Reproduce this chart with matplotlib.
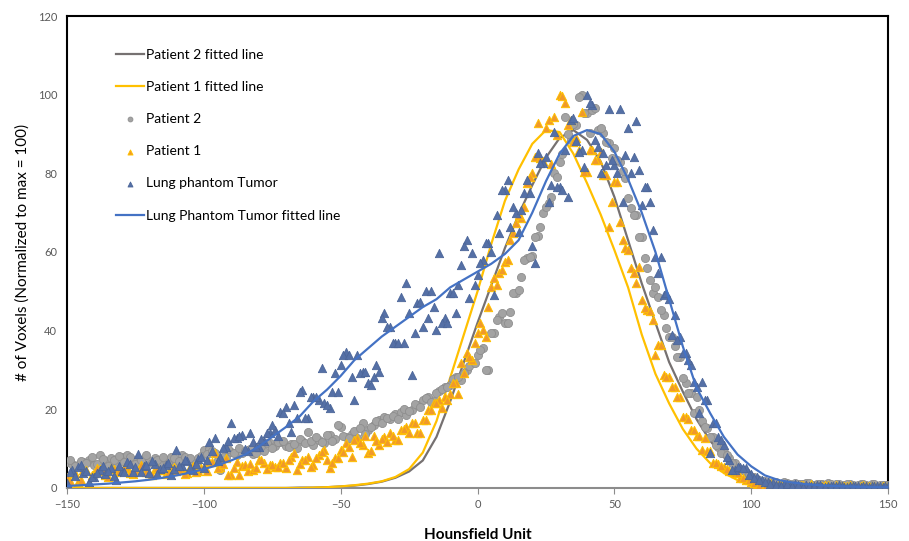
import numpy as np
import matplotlib.pyplot as plt

# Hounsfield unit grids: measured points on even and odd HU, fitted lines every 5 HU
hu_even = np.arange(-150, 151, 2)
hu_odd = np.arange(-149, 150, 2)
hu_fit = np.arange(-150, 151, 5)

# Patient 2 - grey circles
patient2_even = [6.7, 6.2, 5.8, 6.5, 7.0, 5.9, 8.3, 6.8, 7.6, 6.4,
                 8.0, 8.4, 7.1, 6.3, 7.4, 6.9, 7.6, 6.6, 7.2, 7.9,
                 6.5, 8.4, 7.3, 6.8, 7.7, 9.6, 10.0, 8.9, 4.6, 7.8,
                 9.2, 8.4, 9.0, 9.7, 8.6, 10.3, 9.5, 11.4, 10.6, 11.7,
                 10.8, 11.2, 10.2, 11.9, 14.3, 11.0, 12.2, 11.5, 13.5, 12.4,
                 15.5, 12.9, 13.6, 12.8, 16.4, 14.8, 16.0, 17.2, 18.1, 17.5,
                 18.8, 19.3, 18.6, 19.8, 21.0, 22.3, 23.2, 22.0, 24.6, 25.8,
                 26.2, 28.3, 27.4, 30.1, 31.7, 33.8, 35.5, 30.0, 39.3, 43.6,
                 42.0, 44.8, 49.5, 53.7, 58.4, 59.0, 64.0, 69.8, 72.4, 80.2,
                 83.0, 94.4, 88.5, 92.3, 100.0, 95.3, 96.1, 91.0, 90.2, 87.6,
                 86.4, 83.0, 78.7, 71.1, 69.4, 63.9, 55.9, 49.5, 48.6, 44.0,
                 38.5, 36.0, 33.4, 26.6, 24.1, 23.2, 17.0, 15.2, 13.0, 10.5,
                 9.2, 7.5, 6.3, 4.9, 4.0, 2.9, 2.2, 1.8, 1.5, 1.3,
                 1.1, 1.4, 0.9, 1.2, 1.0, 1.3, 0.8, 1.1, 0.9, 1.2,
                 0.7, 1.0, 0.8, 1.1, 0.6, 0.9, 0.7, 1.0, 0.6, 0.8,
                 0.7]
patient2_odd = [7.2, 5.6, 6.9, 6.3, 7.8, 6.1, 7.4, 5.7, 7.0, 8.1,
                6.6, 7.9, 6.0, 7.2, 8.3, 6.4, 7.0, 8.0, 6.2, 7.5,
                6.9, 8.0, 7.6, 6.3, 8.2, 8.6, 9.3, 7.2, 8.0, 9.8,
                8.8, 10.1, 9.4, 10.0, 9.0, 10.8, 11.4, 10.2, 11.6, 12.0,
                10.5, 11.3, 12.5, 11.4, 12.0, 13.0, 11.8, 13.4, 12.0, 15.9,
                13.3, 12.6, 14.4, 15.2, 13.8, 15.5, 17.0, 16.4, 17.9, 18.3,
                17.6, 20.1, 19.6, 21.4, 20.6, 23.0, 21.8, 24.2, 25.2, 25.8,
                27.6, 28.3, 29.2, 31.0, 31.7, 35.1, 30.0, 39.3, 42.7, 44.4,
                41.9, 49.5, 50.3, 58.0, 58.8, 63.9, 66.4, 71.5, 74.0, 79.1,
                85.0, 90.0, 92.6, 99.5, 95.3, 90.2, 96.5, 91.5, 88.0, 84.0,
                83.4, 80.7, 73.7, 69.4, 63.9, 58.4, 52.9, 51.0, 45.3, 40.6,
                38.5, 33.4, 27.9, 24.1, 19.0, 19.8, 15.5, 13.0, 10.9, 9.0,
                8.5, 6.3, 5.1, 4.6, 3.2, 2.9, 2.0, 1.7, 1.2, 1.5,
                1.0, 1.3, 0.8, 1.1, 0.9, 1.2, 0.7, 1.0, 0.8, 1.1,
                0.9, 0.6, 1.0, 0.8, 0.7, 1.0, 0.6, 0.9, 0.7, 0.8]

# Patient 1 - orange triangles
patient1_even = [2.9, 4.2, 1.6, 4.6, 1.2, 3.8, 4.8, 3.3, 5.0, 4.0,
                 4.2, 5.0, 3.6, 4.5, 5.4, 3.9, 4.7, 4.6, 3.5, 5.2,
                 4.3, 5.0, 3.8, 5.6, 4.4, 5.0, 6.7, 8.8, 5.3, 7.5,
                 3.3, 6.7, 5.5, 4.2, 4.6, 7.1, 6.3, 5.8, 5.4, 6.3,
                 5.0, 8.0, 4.6, 7.1, 8.0, 5.8, 8.3, 9.7, 5.0, 7.5,
                 9.7, 11.4, 8.0, 12.6, 10.9, 8.8, 13.1, 11.0, 13.0, 13.9,
                 12.2, 14.7, 15.6, 16.4, 13.9, 17.3, 19.8, 21.5, 22.4, 23.2,
                 24.0, 26.6, 31.7, 34.2, 32.5, 39.3, 40.2, 46.1, 53.3, 54.6,
                 57.5, 63.0, 67.3, 68.6, 77.6, 80.0, 92.7, 83.2, 93.6, 94.4,
                 100.0, 98.0, 93.6, 88.9, 95.7, 80.4, 85.9, 83.4, 79.6, 66.4,
                 77.9, 67.7, 61.0, 55.9, 52.0, 47.8, 45.3, 42.7, 36.4, 28.7,
                 28.3, 25.8, 23.2, 18.1, 14.7, 13.3, 9.7, 9.4, 6.3, 6.0,
                 5.4, 4.2, 3.7, 2.5, 2.0, 1.4, 0.8, 0.3, 1.2, 0.6,
                 0.9, 0.5, 0.8, 0.4, 0.7, 0.5, 0.9, 0.4, 0.6, 0.8,
                 0.3, 0.6, 0.5, 0.7, 0.3, 0.6, 0.4, 0.5, 0.3, 0.6,
                 0.4]
patient1_odd = [1.9, 3.8, 2.0, 4.6, 3.3, 5.2, 4.2, 2.7, 4.7, 4.2,
                5.0, 3.8, 4.6, 5.8, 4.1, 3.2, 5.1, 4.6, 3.9, 5.4,
                4.8, 3.6, 5.3, 4.0, 5.0, 4.2, 6.7, 5.1, 6.0, 3.3,
                5.0, 3.3, 5.9, 6.0, 5.2, 7.1, 4.8, 5.8, 5.4, 6.3,
                7.2, 8.8, 6.2, 7.1, 5.4, 7.6, 9.2, 7.0, 6.3, 7.6,
                9.2, 10.5, 12.2, 11.4, 13.1, 9.5, 12.0, 12.5, 11.6, 13.2,
                12.2, 15.0, 14.0, 16.4, 13.9, 17.3, 19.8, 21.5, 20.4, 22.4,
                26.6, 24.0, 29.2, 33.4, 36.8, 41.9, 38.5, 51.2, 51.6, 55.4,
                58.0, 64.8, 69.4, 71.5, 79.1, 84.2, 83.8, 91.4, 82.4, 89.8,
                99.7, 92.3, 88.0, 86.0, 80.4, 85.9, 83.4, 85.5, 79.6, 72.8,
                77.9, 63.0, 60.5, 54.6, 56.3, 45.7, 45.0, 33.8, 36.4, 28.3,
                25.8, 23.2, 18.1, 17.5, 14.7, 13.3, 12.6, 9.4, 6.3, 5.6,
                4.8, 4.2, 3.7, 2.5, 2.0, 1.2, 0.8, 0.2, 1.2, 0.5,
                0.7, 0.9, 0.4, 0.6, 0.8, 0.4, 0.6, 0.5, 0.7, 0.3,
                0.8, 0.4, 0.6, 0.5, 0.3, 0.7, 0.4, 0.6, 0.3, 0.5]

# Lung phantom tumor - blue triangles
phantom_even = [1.2, 4.6, 5.4, 3.8, 1.6, 2.9, 4.6, 3.5, 5.2, 2.0,
                4.4, 6.7, 4.0, 8.6, 5.5, 3.7, 6.2, 4.8, 5.9, 3.4,
                9.7, 5.6, 6.9, 4.5, 7.3, 5.2, 11.8, 12.6, 8.0, 10.4,
                16.4, 12.6, 13.5, 9.5, 11.8, 10.5, 12.0, 13.9, 14.7, 19.4,
                20.7, 14.3, 17.7, 24.9, 17.7, 23.2, 22.4, 21.5, 20.3, 29.2,
                31.3, 34.7, 28.3, 33.8, 29.6, 26.6, 28.3, 29.6, 44.4, 41.0,
                36.8, 48.6, 52.0, 28.7, 47.0, 41.0, 43.1, 45.9, 59.7, 43.1,
                49.5, 44.4, 56.7, 63.0, 59.7, 54.2, 58.0, 62.2, 49.0, 64.8,
                75.8, 66.4, 69.8, 70.7, 78.3, 61.4, 85.1, 82.6, 72.8, 90.6,
                76.6, 85.9, 93.6, 88.1, 85.9, 100.0, 97.4, 86.8, 85.1, 96.3,
                82.1, 96.3, 84.7, 80.0, 93.4, 71.9, 76.6, 65.6, 54.6, 49.1,
                48.0, 44.0, 38.5, 34.2, 31.3, 25.8, 27.0, 22.4, 16.4, 13.0,
                11.0, 7.1, 4.6, 5.4, 5.0, 3.5, 2.9, 2.0, 1.5, 1.2,
                0.8, 1.0, 0.5, 0.9, 0.4, 0.7, 0.5, 0.8, 0.3, 0.6,
                0.4, 0.7, 0.3, 0.5, 0.6, 0.2, 0.5, 0.4, 0.6, 0.3,
                0.5]
phantom_odd = [4.0, 3.0, 5.8, 4.4, 2.9, 3.8, 5.6, 4.2, 3.1, 5.5,
               4.0, 6.2, 5.3, 4.1, 5.8, 6.8, 3.6, 5.0, 6.4, 4.9,
               5.7, 7.2, 5.0, 6.1, 8.0, 7.0, 9.3, 6.8, 10.1, 12.0,
               12.6, 13.3, 10.0, 14.1, 10.5, 12.4, 13.9, 16.0, 13.2, 19.0,
               16.5, 21.0, 24.5, 17.7, 23.2, 23.2, 30.4, 21.1, 24.5, 24.5,
               33.8, 33.9, 22.4, 29.2, 29.6, 26.2, 31.3, 43.1, 41.0, 36.8,
               36.8, 36.8, 44.4, 39.3, 47.4, 50.0, 50.2, 40.2, 41.9, 41.9,
               49.5, 51.6, 61.4, 48.2, 51.6, 57.1, 62.2, 60.1, 69.4, 75.8,
               78.3, 71.5, 65.2, 74.9, 74.9, 57.1, 82.6, 84.2, 77.0, 76.6,
               75.8, 74.1, 94.0, 85.5, 81.7, 97.8, 88.5, 80.0, 82.2, 83.4,
               80.0, 72.8, 91.4, 84.2, 80.9, 76.6, 72.8, 58.8, 58.8, 49.5,
               38.9, 37.6, 34.2, 32.5, 27.0, 19.0, 22.4, 8.8, 16.4, 12.2,
               8.0, 4.6, 5.4, 5.0, 3.2, 2.5, 2.0, 1.4, 1.0, 0.8,
               0.6, 0.9, 0.4, 0.7, 0.3, 0.6, 0.4, 0.7, 0.3, 0.5,
               0.4, 0.6, 0.2, 0.5, 0.4, 0.6, 0.3, 0.5, 0.4, 0.6]

# fitted lines, every 5 HU
patient2_fit = [0, 0, 0, 0, 0, 0, 0, 0, 0, 0,
                0, 0, 0, 0, 0, 0, 0, 0.1, 0.1, 0.2,
                0.4, 0.6, 1.0, 1.6, 2.6, 4.2, 7.0, 13.0, 22.0, 32.0,
                42.0, 51.5, 61.0, 69.5, 77.0, 84.0, 89.0, 91.0, 88.5, 83.0,
                74.0, 63.0, 52.0, 42.0, 32.0, 24.5, 17.5, 12.0, 7.8, 4.5,
                2.4, 1.2, 0.6, 0.3, 0.15, 0.1, 0, 0, 0, 0,
                0]
patient1_fit = [0, 0, 0, 0, 0, 0, 0, 0, 0, 0,
                0, 0, 0, 0, 0, 0, 0, 0, 0.1, 0.2,
                0.4, 0.7, 1.1, 1.7, 2.8, 4.8, 9.0, 17.0, 28.0, 39.0,
                50.0, 62.0, 73.0, 81.0, 87.5, 91.0, 90.5, 85.0, 77.5, 69.5,
                60.5, 51.0, 39.0, 29.0, 21.5, 15.0, 10.0, 6.3, 3.8, 2.0,
                0.9, 0.4, 0.2, 0.1, 0, 0, 0, 0, 0, 0,
                0]
phantom_fit = [0.5, 0.7, 0.9, 1.1, 1.4, 1.7, 2.1, 2.6, 3.2, 3.9,
               4.8, 5.8, 7.0, 8.5, 10.5, 13.0, 15.5, 18.2, 22.0, 25.0,
               28.5, 32.5, 35.5, 38.5, 41.0, 43.5, 46.0, 48.0, 51.0, 53.0,
               55.0, 57.0, 59.5, 63.0, 70.0, 78.0, 85.0, 89.5, 91.0, 90.0,
               85.5, 78.5, 70.0, 60.0, 48.0, 36.0, 25.5, 19.0, 13.0, 8.5,
               5.5, 3.2, 2.0, 1.4, 1.0, 0.7, 0.5, 0.4, 0.3, 0.2,
               0.2]

plt.rcParams['font.family'] = ['Lato', 'DejaVu Sans']

fig = plt.figure(figsize=(9.09, 5.41), dpi=100)
ax = fig.add_axes([0.0737, 0.098, 0.9033, 0.8724])

hu_pts = np.concatenate([hu_even, hu_odd])

# drawn in the legend (series) order
ax.plot(hu_fit, patient2_fit, color='#767171', lw=1.6, label='Patient 2 fitted line', zorder=2)
ax.plot(hu_fit, patient1_fit, color='#FFC000', lw=1.6, label='Patient 1 fitted line', zorder=3)
ax.scatter(hu_pts, patient2_even + patient2_odd, s=34, marker='o', color='#A3A3A3',
           edgecolors='#8E8E8E', linewidths=0.6, label='Patient 2', zorder=4)
ax.scatter(hu_pts, patient1_even + patient1_odd, s=36, marker='^', color='#F0992A',
           edgecolors='#FFC000', linewidths=0.7, label='Patient 1', zorder=5)
ax.scatter(hu_pts, phantom_even + phantom_odd, s=36, marker='^', color='#5570A6',
           edgecolors='#4C6699', linewidths=0.6, label='Lung phantom Tumor', zorder=6)
ax.plot(hu_fit, phantom_fit, color='#4472C4', lw=1.6, label='Lung Phantom Tumor fitted line', zorder=7)

ax.set_xlim(-150, 150)
ax.set_ylim(0, 120)
ax.set_xticks(np.arange(-150, 151, 50))
ax.set_yticks(np.arange(0, 121, 20))
ax.tick_params(axis='x', direction='out', length=4, color='#8C8C8C', labelsize=8,
               labelcolor='#595959', pad=4)
ax.tick_params(axis='y', length=0, labelsize=8, labelcolor='#595959', pad=7)

for side in ['left', 'top', 'right']:
    ax.spines[side].set_color('black')
    ax.spines[side].set_linewidth(1.5)
ax.spines['bottom'].set_color('#8C8C8C')
ax.spines['bottom'].set_linewidth(1.5)

ax.set_xlabel('Hounsfield Unit', fontsize=11, fontweight='bold', labelpad=13)
ax.set_ylabel('# of Voxels (Normalized to max = 100)', fontsize=11, labelpad=6)

leg = ax.legend(loc='upper left', bbox_to_anchor=(0.045, 0.957), frameon=False, fontsize=10,
                labelspacing=1.45, handlelength=2.0, handletextpad=0.1, markerscale=0.6)

plt.savefig('out.png', dpi=100)
